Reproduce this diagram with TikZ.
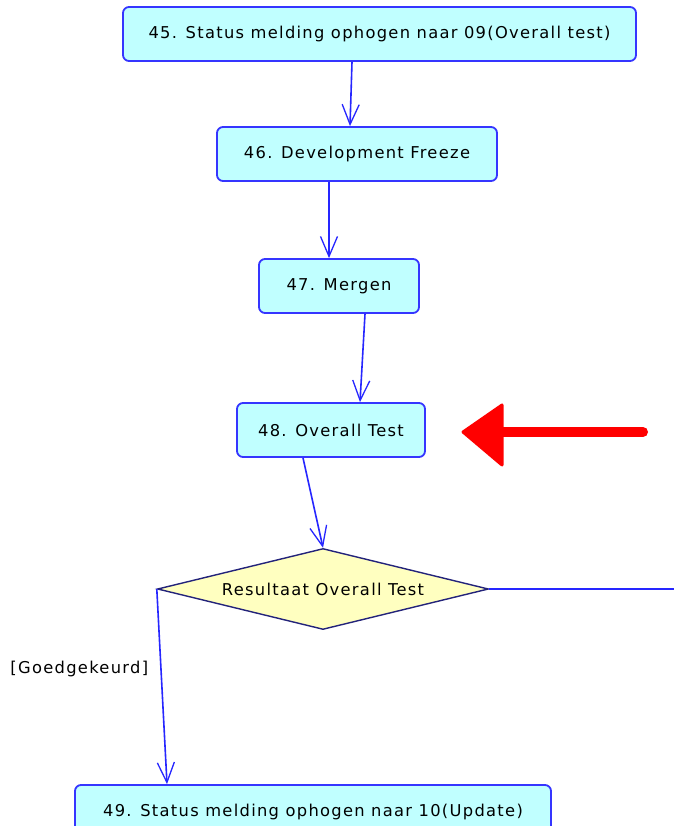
\documentclass[tikz,border=0pt]{standalone}
\usepackage{fontspec}
\setmainfont{DejaVu Sans}[LetterSpace=8]
\usetikzlibrary{arrows.meta,shapes.geometric}
\definecolor{actfill}{HTML}{C0FFFF}
\definecolor{actline}{HTML}{3535FF}
\definecolor{decfill}{HTML}{FFFFC0}
\definecolor{decline}{HTML}{23237A}
\definecolor{flow}{HTML}{2626FF}
\tikzset{
  activity/.style={draw=actline, fill=actfill, line width=1.8pt, rounded corners=6pt,
    minimum height=54pt, inner sep=0pt, font=\fontsize{16.3}{18}\selectfont},
  decision/.style={diamond, aspect=4, draw=decline, fill=decfill, line width=1.4pt,
    minimum width=331pt, minimum height=81pt, inner sep=0pt, font=\fontsize{16.3}{18}\selectfont},
  flowline/.style={draw=flow, line width=1.6pt,
    -{Straight Barb[length=20pt,width=17pt,line width=1.3pt]}},
  plainflow/.style={draw=flow, line width=1.6pt},
  guard/.style={font=\fontsize{16.3}{18}\selectfont, inner sep=0pt},
  pointer/.style={fill=red, draw=red, line join=round, line width=3pt}
}
\begin{document}
\begin{tikzpicture}[x=1pt,y=-1pt]
  \clip (0,0) rectangle (674,826);
  \fill[white] (0,0) rectangle (674,826);

  \node[activity, minimum width=513pt] (n45) at (379.5,34) {45. Status melding ophogen naar 09(Overall test)};
  \node[activity, minimum width=280pt] (n46) at (357,154) {46. Development Freeze};
  \node[activity, minimum width=160pt] (n47) at (339,286) {47. Mergen};
  \node[activity, minimum width=188pt] (n48) at (331,430) {48. Overall Test};
  \node[decision] (dec) at (323,589) {Resultaat Overall Test};
  \node[activity, minimum width=476pt] (n49) at (313,812) {49. Status melding ophogen naar 10(Update)};

  \coordinate (rightexit) at (674,589);

  % control flows
  \draw[flowline] ([xshift=-27.5pt]n45.south) -- ([xshift=-7pt]n46.north);
  \draw[flowline] ([xshift=-28pt]n46.south) -- ([xshift=-10pt]n47.north);
  \draw[flowline] ([xshift=26pt]n47.south) -- ([xshift=29pt]n48.north);
  \draw[flowline] ([xshift=-28pt]n48.south) -- (dec.north);
  \draw[flowline] (dec.west) -- node[guard, pos=0.41, left=12pt] (lbl) {[Goedgekeurd]} ([xshift=-146pt]n49.north);
  \draw[plainflow] (dec.east) -- (rightexit);

  % red pointer
  \draw[red, line width=10pt, line cap=round] (643,432) -- (498,432);
  \draw[pointer] (463,432) -- (502,405) -- (502,465) -- cycle;
\end{tikzpicture}
\end{document}
